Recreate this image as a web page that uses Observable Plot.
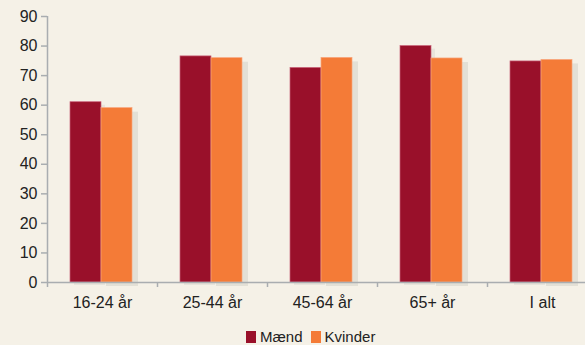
<!DOCTYPE html>
<html>
<head>
<meta charset="utf-8">
<script src="https://cdn.jsdelivr.net/npm/d3@7"></script>
<script src="https://cdn.jsdelivr.net/npm/@observablehq/plot@0.6"></script>
<style>
  html, body { margin: 0; padding: 0; background: #f5f1e7; overflow: hidden; width: 585px; height: 345px; }
  #chart { position: relative; width: 585px; height: 345px; overflow: hidden; }
  #chart svg { max-width: none !important; }
  #legend { position: absolute; left: 246px; top: 328px; font: 15px "Liberation Sans", Arial, sans-serif; color: #222; white-space: nowrap; }
  #legend span.sw { display: inline-block; width: 10px; height: 12px; vertical-align: -1px; margin-right: 4px; }
  #legend span.item { margin-right: 8px; }
</style>
</head>
<body>
<div id="chart"></div>
<script>
const categories = ["16-24 år", "25-44 år", "45-64 år", "65+ år", "I alt"];
const maend   = [61.0, 76.5, 72.6, 80.0, 74.8];
const kvinder = [59.0, 75.9, 76.0, 75.8, 75.3];
const yTicks = [0, 10, 20, 30, 40, 50, 60, 70, 80, 90];
const series = ["Mænd", "Kvinder"];
const colors = ["#99102a", "#f47b37"];

const rows = categories.map((c, i) => ({category: c, maend: maend[i], kvinder: kvinder[i]}));
const axisColor = "#a9adb0";

const plot = Plot.plot({
  width: 597,
  height: 322,
  marginLeft: 47,
  marginRight: 0,
  marginTop: 16,
  marginBottom: 40,
  style: {background: "transparent", fontFamily: "Liberation Sans, Arial, sans-serif", fontSize: "15px", color: "#222", overflow: "visible", maxWidth: "none"},
  x: {domain: categories, padding: 0, label: null},
  y: {domain: [0, 90], ticks: yTicks, label: null},
  marks: [
    // soft shadows
    Plot.barY(rows, {x: "category", y: "kvinder", fill: "#000", fillOpacity: 0.07, insetLeft: 56, insetRight: 22, dy: 4, dx: 3}),
    Plot.barY(rows, {x: "category", y: "maend", fill: "#000", fillOpacity: 0.05, insetLeft: 25, insetRight: 54, dy: 3, dx: 2}),
    Plot.barY(rows, {x: "category", y: "maend", fill: colors[0], stroke: "#c9637a", strokeWidth: 0.7, insetLeft: 23, insetRight: 56}),
    Plot.barY(rows, {x: "category", y: "kvinder", fill: colors[1], stroke: "#f8a57c", strokeWidth: 0.7, insetLeft: 54, insetRight: 25}),
    Plot.ruleY([0], {stroke: axisColor, strokeWidth: 1.5}),
    Plot.ruleX(categories, {x: d => d, dx: -55, y1: 0, y2: 0, insetBottom: -5, stroke: axisColor, strokeWidth: 1.5}),
    Plot.ruleX([categories[0]], {x: d => d, dx: -55, y1: 0, y2: 90, stroke: axisColor, strokeWidth: 1.5}),
    Plot.axisY({ticks: yTicks, tickSize: 6, tickPadding: 4, stroke: axisColor, strokeWidth: 1.5, fill: "#222", fontSize: 16}),
    Plot.axisX({tickSize: 0, tickPadding: 14, fill: "#222", fontSize: 16})
  ]
});
document.getElementById("chart").appendChild(plot);

const legend = document.createElement("div");
legend.id = "legend";
legend.innerHTML = series.map((s, i) =>
  `<span class="item"><span class="sw" style="background:${colors[i]}"></span>${s}</span>`).join("");
document.getElementById("chart").appendChild(legend);
</script>
</body>
</html>
